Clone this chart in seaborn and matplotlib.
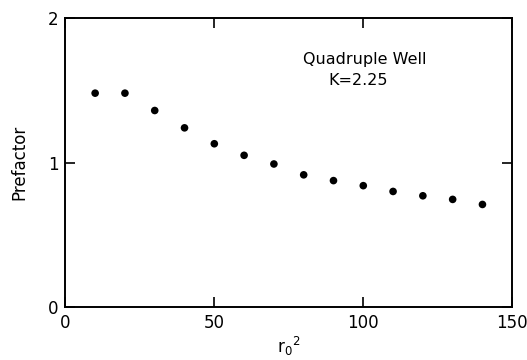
import matplotlib
matplotlib.use("Agg")
import matplotlib.pyplot as plt
import seaborn as sns
import pandas as pd

# values
r0_sq = [10, 20, 30, 40, 50, 60, 70, 80, 90, 100, 110, 120, 130, 140]
prefactor = [1.48, 1.48, 1.36, 1.24, 1.13, 1.05, 0.99, 0.915, 0.875, 0.84, 0.80, 0.77, 0.745, 0.71]
x_ticks = [0, 50, 100, 150]
y_ticks = [0, 1, 2]

sns.set_theme(style="ticks")
plt.rcParams['font.family'] = ['DejaVu Sans']
plt.rcParams['text.color'] = 'black'
plt.rcParams['axes.labelcolor'] = 'black'
plt.rcParams['xtick.color'] = 'black'
plt.rcParams['ytick.color'] = 'black'

df = pd.DataFrame({'r0sq': r0_sq, 'prefactor': prefactor})

fig = plt.figure(figsize=(5.27, 3.6), dpi=100)
ax = fig.add_axes([0.124, 0.147, 0.848, 0.803])
sns.scatterplot(data=df, x='r0sq', y='prefactor', ax=ax, color='black',
                s=30, edgecolor='none', legend=False)

ax.set_xlim(0, 150)
ax.set_ylim(0, 2)
ax.set_xticks(x_ticks)
ax.set_yticks(y_ticks)
ax.tick_params(direction='in', length=7, width=1.2, labelsize=12,
               top=True, right=True, pad=5)
for sp in ax.spines.values():
    sp.set_linewidth(1.4)
    sp.set_color('black')
    sp.set_visible(True)

ax.set_xlabel('r$_{0}$$^{2}$', fontsize=12, labelpad=2)
ax.set_ylabel('Prefactor', fontsize=12, labelpad=14)

ax.text(0.67, 0.855, 'Quadruple Well', transform=ax.transAxes,
        ha='center', va='center', fontsize=11.5)
ax.text(0.655, 0.785, 'K=2.25', transform=ax.transAxes,
        ha='center', va='center', fontsize=11.5)

fig.savefig('out.png', dpi=100)
